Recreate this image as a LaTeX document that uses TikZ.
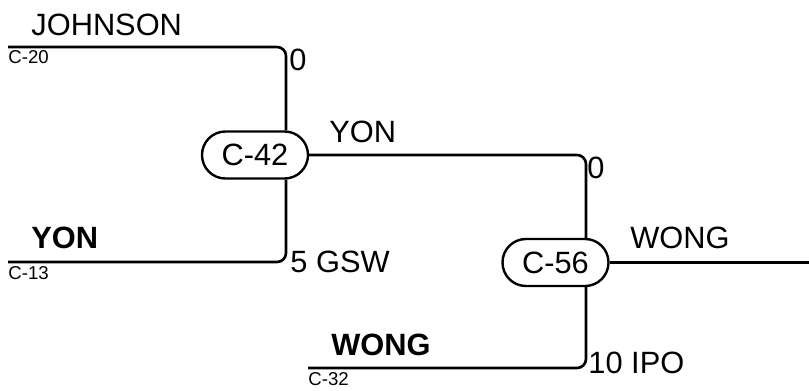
\documentclass[tikz,border=0pt]{standalone}
\usepackage{fontspec}
\setmainfont{Liberation Sans}
\usetikzlibrary{positioning}
\definecolor{ink}{HTML}{000000}

\tikzset{
  game/.style={draw=ink, line width=1.2pt, rounded corners=11.7pt, minimum width=53pt,
    minimum height=23.5pt, inner sep=0pt, font=\fontsize{15.4}{18}\selectfont},
  bracket/.style={ink, line width=1.3pt, rounded corners=4.5pt},
  team/.style={anchor=base west, inner sep=0pt, font=\fontsize{15.4}{18}\selectfont},
  leader/.style={team, font=\fontsize{15.4}{18}\selectfont\bfseries},
  seed/.style={anchor=base west, inner sep=0pt, font=\fontsize{9.3}{11}\selectfont},
}

\begin{document}
\begin{tikzpicture}[x=0.5pt,y=-0.5pt]
  \useasboundingbox (0,0) rectangle (809,391);
  % Games
  \node[game] (c42) at (255,155) {C-42};
  \node[game] (c56) at (555.5,262.5) {C-56};

  % Line ends
  \coordinate (c20end) at (8,47);
  \coordinate (c13end) at (8,262);
  \coordinate (c32end) at (308,368);
  \coordinate (winner) at (809,0);
  \coordinate (v42) at (286,0);
  \coordinate (v56) at (586,0);

  % Bracket lines
  \draw[bracket] (c20end) -| (c42.north -| v42);
  \draw[bracket] (c13end) -| (c42.south -| v42);
  \draw[bracket] (c42.east) -| (c56.north -| v56);
  \draw[bracket] (c32end) -| (c56.south -| v56);
  \draw[bracket] (c56.east) -- (c56.east -| winner);

  % Teams and seeds
  \node[team] (johnson) at (31,35) {JOHNSON};
  \node[seed] (c20) at (8,63) {C-20};
  \node[leader] (yon) at (31,248) {YON};
  \node[seed] (c13) at (8,279) {C-13};
  \node[leader] (wong) at (331,355) {WONG};
  \node[seed] (c32) at (308,385) {C-32};
  \node[team] (yonwin) at (329,142) {YON};
  \node[team] (wongwin) at (630,248) {WONG};

  % Scores
  \node[team] (s20) at (289,70) {0};
  \node[team] (s13) at (290,272) {5 GSW};
  \node[team] (s42) at (587,178) {0};
  \node[team] (s32) at (588,373) {10 IPO};
\end{tikzpicture}
\end{document}
